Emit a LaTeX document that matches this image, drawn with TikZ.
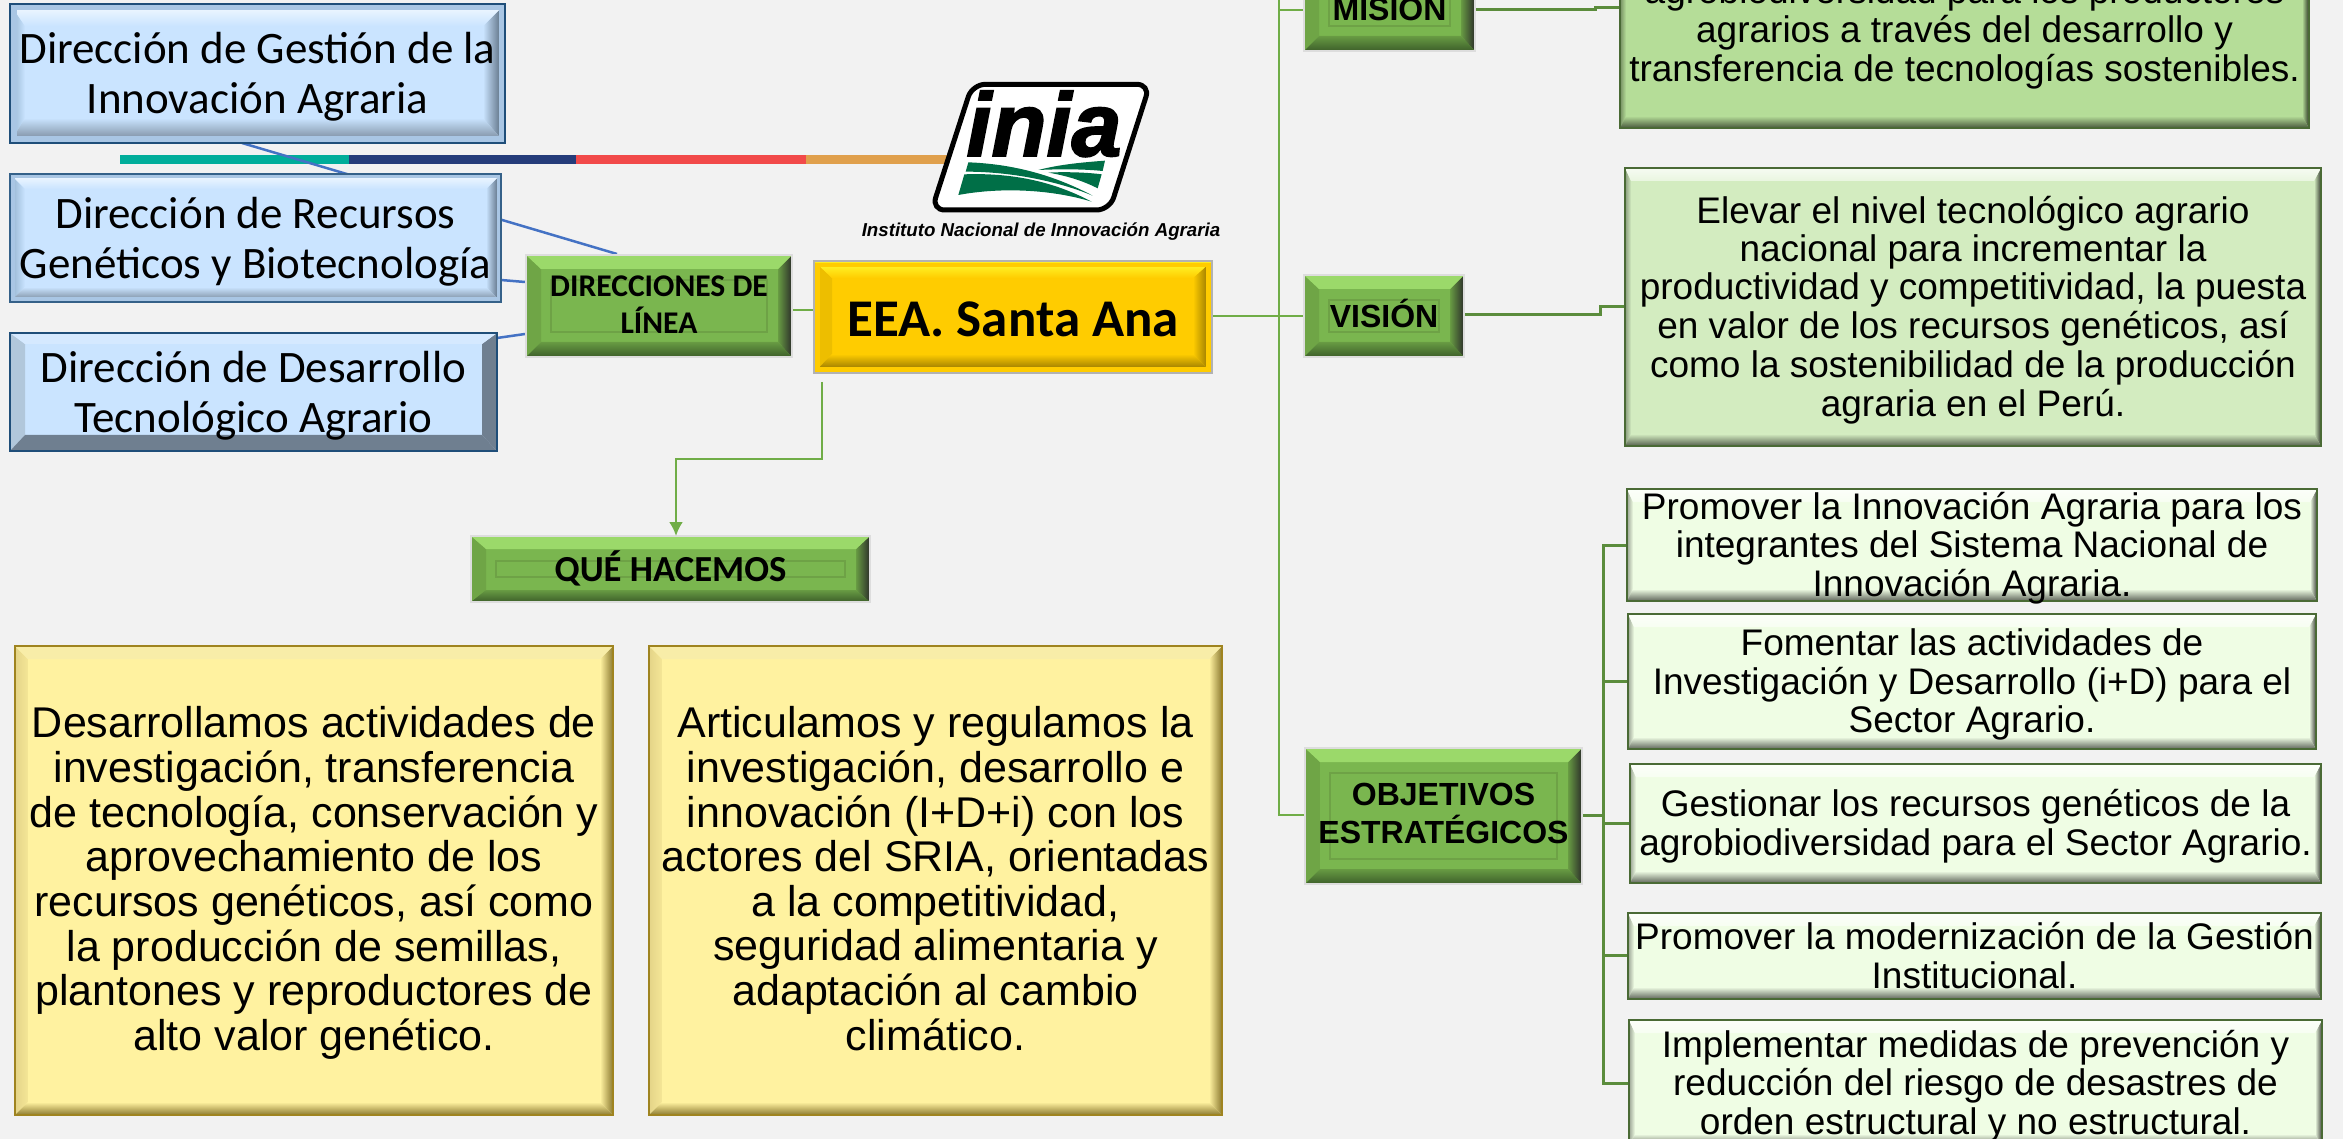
\documentclass[tikz,border=0pt]{standalone}
\usepackage{fontspec}
\setmainfont{Liberation Sans}
\newfontfamily\carl{Carlito}
\newfontfamily\iniafont{Liberation Sans}[BoldItalicFeatures={FakeBold=2}]
\usetikzlibrary{arrows.meta}
% text of fixed size that never changes the size of its box
\newcommand{\tx}[3]{\fontsize{#1}{#2}\selectfont\makebox[0pt][c]{\smash{\raisebox{-.25em}{\begin{tabular}[c]{@{}c@{}}#3\end{tabular}}}}}
\newcommand{\txp}[3]{\fontsize{#1}{#2}\selectfont\makebox[0pt][c]{\smash{\raisebox{-.3em}{\begin{tabular}[c]{@{}c@{}}#3\end{tabular}}}}}
\tikzset{
  bvx/.store in=\bvx, bvt/.store in=\bvt, bvb/.store in=\bvb, bvr/.store in=\bvr,
  bvextra/.store in=\bvextra, bvextra={},
  ctA/.code={\colorlet{ctAc}{#1}}, ctB/.code={\colorlet{ctBc}{#1}},
  cbA/.code={\colorlet{cbAc}{#1}}, cbB/.code={\colorlet{cbBc}{#1}},
  cl/.code={\colorlet{clc}{#1}}, cr/.code={\colorlet{crc}{#1}},
  clI/.code={\colorlet{clIc}{#1}}, crI/.code={\colorlet{crIc}{#1}},
  bevel/.style={inner sep=0pt, outer sep=0pt, path picture={
    \coordinate (nw) at (path picture bounding box.north west);
    \coordinate (ne) at (path picture bounding box.north east);
    \coordinate (sw) at (path picture bounding box.south west);
    \coordinate (se) at (path picture bounding box.south east);
    \coordinate (inw) at ([xshift=\bvx pt,yshift=-\bvt pt]nw);
    \coordinate (ine) at ([xshift=-\bvr pt,yshift=-\bvt pt]ne);
    \coordinate (isw) at ([xshift=\bvx pt,yshift=\bvb pt]sw);
    \coordinate (ise) at ([xshift=-\bvr pt,yshift=\bvb pt]se);
    \shade[left color=clc,right color=clIc] (nw) -- (inw) -- (isw) -- (sw) -- cycle;
    \shade[left color=crIc,right color=crc] (ne) -- (ine) -- (ise) -- (se) -- cycle;
    \shade[top color=ctAc,bottom color=ctBc] (nw) -- (ne) -- (ine) -- (inw) -- cycle;
    \shade[top color=cbAc,bottom color=cbBc] (isw) -- (ise) -- (se) -- (sw) -- cycle;
    \bvextra
  }},
  bluebox/.style={bevel, draw=#1, line width=2.5pt, fill=facebl, ctA=white!80!facebl, ctB=facebl, cl=blL, clI=facebl, cr=blR, crI=facebl, cbA=facebl, cbB=blB, bvx=15, bvr=22, bvt=22, bvb=25,
    bvextra={\draw[line width=13pt,blA] (nw) rectangle (se);}},
  greenbox/.style={bevel, draw=rimgr, line width=1.5pt, fill=facegr, ctA=#1, ctB=#1, cl=grL, clI=grL, cr=grR, crI=facegr!85!black, cbA=facegr!85!black, cbB=grB, bvx=15, bvr=14, bvt=14, bvb=15,
    bvextra={\draw[line width=1.2pt,grF] ([xshift=25pt,yshift=-25pt]nw) rectangle ([xshift=-25pt,yshift=25pt]se);}},
  paleboxA/.style 2 args={bevel, draw=#1, fill=#2, line width=2.5pt, ctA=white!80!#2, ctB=#2!50!white, cl=#2!65!black, clI=#2, cr=#2!25!black, crI=#2, cbA=#2, cbB=#2!40!black, bvx=6, bvr=7, bvt=13, bvb=12},
  yellowbox/.style={bevel, draw=yelD, line width=2.5pt, fill=faceye, ctA=yelT, ctB=yelT, cl=yelL, clI=yelL!40!faceye, cr=yelR, crI=faceye, cbA=faceye, cbB=yelR, bvx=13, bvr=13, bvt=13, bvb=13},
  eeabox/.style={bevel, draw=gray!60, line width=1.5pt, fill=eeaF, ctA=eeaT, ctB=eeaF, cl=eeaL, clI=eeaL, cr=eeaR, crI=eeaF, cbA=eeaF, cbB=eeaR, bvx=18, bvr=19, bvt=17, bvb=19,
    bvextra={\draw[line width=12pt,eeaF] (nw) rectangle (se); \draw[line width=5pt,eeaT!60!eeaF] (nw) -- (ne);}},
  conn/.style={draw=gline, line width=2.5pt},
  dconn/.style={draw=dline, line width=3pt},
  bconn/.style={draw=bline, line width=2.5pt},
}
\definecolor{bgc}{HTML}{F2F2F2}
\definecolor{facebl}{HTML}{CAE4FF}
\definecolor{blA}{HTML}{A9C6E4}
\definecolor{blL}{HTML}{8FAFCB}
\definecolor{blR}{HTML}{46586A}
\definecolor{blB}{HTML}{6F7F90}
\definecolor{blD}{HTML}{1F4E79}
\definecolor{facegr}{HTML}{7AB64F}
\definecolor{rimgr}{HTML}{DDDDDD}
\definecolor{grT}{HTML}{9BD96A}
\definecolor{grL}{HTML}{6FA546}
\definecolor{grR}{HTML}{2C2F2A}
\definecolor{grB}{HTML}{3D5F2A}
\definecolor{grF}{HTML}{6EA246}
\definecolor{gline}{HTML}{70AD47}
\definecolor{dline}{HTML}{5B8C3C}
\definecolor{bline}{HTML}{4472C4}
\definecolor{faceye}{HTML}{FFF2A0}
\definecolor{yelT}{HTML}{F8EDA8}
\definecolor{yelL}{HTML}{E4D488}
\definecolor{yelR}{HTML}{8C7A30}
\definecolor{yelD}{HTML}{9F8420}
\definecolor{eeaF}{HTML}{FFCC00}
\definecolor{eeaT}{HTML}{FFFF33}
\definecolor{eeaL}{HTML}{EDBE00}
\definecolor{eeaR}{HTML}{7F6500}
\definecolor{bandA}{HTML}{00AD9A}
\definecolor{bandB}{HTML}{253C7A}
\definecolor{bandC}{HTML}{F24A4A}
\definecolor{bandD}{HTML}{E0A04C}
\definecolor{logoG}{HTML}{006F47}
\definecolor{mis}{HTML}{B5DD98}
\definecolor{vis}{HTML}{D3ECC0}
\definecolor{obj}{HTML}{EFFDE4}
\definecolor{edgeG}{HTML}{4A6A35}
\newcommand{\bx}[7][]{\node[#2,#1,minimum width={(#6-#4)*1pt},minimum height={(#7-#5)*1pt}] (#3) at ({(#4+#6)/2},{(#5+#7)/2})}
\begin{document}
\begin{tikzpicture}[x=1pt,y=-1pt]
\useasboundingbox (0,0) rectangle (2343,1139);
\clip (0,0) rectangle (2343,1139);
\fill[bgc] (0,0) rectangle (2343,1139);
% colour band
\fill[bandA] (120,155) rectangle (349,164);
\fill[bandB] (349,155) rectangle (576,164);
\fill[bandC] (576,155) rectangle (806,164);
\fill[bandD] (806,155) rectangle (960,164);
% named connector ends
\coordinate (b1out) at (242,143);
\coordinate (dlin1) at (617,254);
\coordinate (qstart) at (822,382);
\coordinate (qmid) at (822,459);
\coordinate (trunktop) at (1279,-5);
\coordinate (vjog) at (1600,315);
\coordinate (mjog) at (1595,10);
\coordinate (ojog) at (1603,815);
% blue connectors
\draw[bconn] (b1out) -- (dlin1);
\draw[bconn] (501,280) -- (525,282);
\draw[bconn] (497,338) -- (525,334);
% green connectors
\draw[conn] (792,310) -- (813,310);
\draw[conn] (1212,316) -- (1303,316);
\draw[conn] (qstart) -- (qmid) -| (676,530);
\draw[conn] (trunktop) |- (1305,815);
\draw[conn] (1279,10) -- (1305,10);
\draw[dconn] (1464,315) -- (vjog) |- (1624,307);
\draw[dconn] (1475,10) -- (mjog) |- (1620,8);
\draw[dconn] (1582,815) -- (ojog);
\draw[dconn] (1627,545) -| (1603,1083) -- (1630,1083);
\draw[dconn] (1603,681) -- (1628,681);
\draw[dconn] (1603,823) -- (1630,823);
\draw[dconn] (1603,955.5) -- (1628,955.5);
% blue boxes
\bx{bluebox=blD}{b1}{10}{4}{505}{143} {\carl\tx{45}{50}{Dirección de Gestión de la\\Innovación Agraria}};
\bx[bvr=15,bvt=15,bvb=15,bvextra={\draw[line width=9pt,blA] (nw) rectangle (se);}]{bluebox=blD!80!blL}{b2}{10}{174}{501}{302} {\carl\tx{45}{50}{Dirección de Recursos\\Genéticos y Biotecnología}};
\bx[bvx=15,bvr=15,bvt=11,bvb=16,ctA=facebl!80!white,ctB=facebl!80!white,cl=blL!70!white,clI=blL!70!white,cr=blB,crI=blB,cbA=blB,cbB=blB,bvextra={}]{bluebox=blD}{b3}{10}{333}{497}{451} {\carl\tx{45}{50}{Dirección de Desarrollo\\Tecnológico Agrario}};
% green nodes
\bx{greenbox=grT}{dl}{526}{255}{792}{357} {\carl\bfseries\tx{31.6}{35}{DIRECCIONES DE\\LÍNEA}};
\bx{greenbox=grT}{mision}{1304}{-32}{1475}{51} {\bfseries\tx{32}{33}{MISIÓN}};
\bx{greenbox=grT}{vision}{1304}{275}{1464}{357} {\bfseries\tx{32}{33}{VISIÓN}};
\bx{greenbox=grT}{objetivos}{1305}{748}{1582}{884} {\bfseries\tx{32}{33}{OBJETIVOS\\ESTRATÉGICOS}};
\bx[bvt=13,bvb=12]{greenbox=grT}{que}{471}{536}{870}{602} {\carl\bfseries\tx{36.7}{38}{QUÉ HACEMOS}};
% main yellow node
\bx{eeabox}{eea}{814}{261}{1212}{373} {\carl\bfseries\tx{53}{60}{EEA. Santa Ana}};
\draw[conn,-{Latex[length=14pt,width=14pt]}] (676,520) -- (676,536);
% statement boxes
\bx{paleboxA={edgeG}{mis}}{misbox}{1620}{-68}{2309}{128} {\txp{37}{39}{agrobiodiversidad para los productores\\agrarios a través del desarrollo y\\transferencia de tecnologías sostenibles.}};
\bx{paleboxA={edgeG}{vis}}{visbox}{1625}{168}{2321}{446} {\txp{37}{38.4}{Elevar el nivel tecnológico agrario\\nacional para incrementar la\\productividad y competitividad, la puesta\\en valor de los recursos genéticos, así\\como la sostenibilidad de la producción\\agraria en el Perú.}};
\bx{paleboxA={edgeG}{obj}}{o1}{1627}{489}{2317}{601} {\txp{37}{38.6}{Promover la Innovación Agraria para los\\integrantes del Sistema Nacional de\\Innovación Agraria.}};
\bx{paleboxA={edgeG}{obj}}{o2}{1628}{614}{2316}{749} {\txp{37}{38.6}{Fomentar las actividades de\\Investigación y Desarrollo (i+D) para el\\Sector Agrario.}};
\bx{paleboxA={edgeG}{obj}}{o3}{1630}{764}{2321}{883} {\txp{37}{38.6}{Gestionar los recursos genéticos de la\\agrobiodiversidad para el Sector Agrario.}};
\bx{paleboxA={edgeG}{obj}}{o4}{1628}{913}{2321}{999} {\txp{37}{38.6}{Promover la modernización de la Gestión\\Institucional.}};
\bx{paleboxA={edgeG}{obj}}{o5}{1629}{1020}{2322}{1146} {\txp{37}{38.6}{Implementar medidas de prevención y\\reducción del riesgo de desastres de\\orden estructural y no estructural.}};
\bx{yellowbox}{y1}{15}{646}{613}{1115} {\tx{43}{44.3}{Desarrollamos actividades de\\investigación, transferencia\\de tecnología, conservación y\\aprovechamiento de los\\recursos genéticos, así como\\la producción de semillas,\\plantones y reproductores de\\alto valor genético.}};
\bx{yellowbox}{y2}{649}{646}{1222}{1115} {\tx{43}{44.3}{Articulamos y regulamos la\\investigación, desarrollo e\\innovación (I+D+i) con los\\actores del SRIA, orientadas\\a la competitividad,\\seguridad alimentaria y\\adaptación al cambio\\climático.}};
% logo
\begin{scope}[shift={(920,75)},x=0.3333pt,y=-0.3333pt]
\draw[black,fill=white,line width=5pt,rounded corners=13pt] (157,28) -- (690,28) -- (569,405) -- (35,405) -- cycle;
\fill[logoG] (145,262) .. controls (300,268) and (420,310) .. (518,362) .. controls (430,325) and (290,290) .. (137,290) -- cycle;
\fill[logoG] (133,298) .. controls (300,292) and (420,330) .. (515,380) .. controls (400,345) and (250,335) .. (115,360) -- cycle;
\fill[logoG] (355,285) .. controls (420,268) and (490,262) .. (555,257) -- (548,288) .. controls (490,282) and (420,282) .. (355,285) -- cycle;
\fill[logoG] (385,293) .. controls (430,290) and (500,292) .. (545,298) -- (533,340) .. controls (490,318) and (440,302) .. (385,293) -- cycle;
\node[inner sep=0pt,anchor=base] (inia) at (372,243) {\fontsize{90}{90}\selectfont\iniafont\bfseries\itshape inia};
\end{scope}
\node[inner sep=0pt] (inst) at (1041,232) {\fontsize{18.7}{22}\selectfont\bfseries\itshape Instituto Nacional de Innovación Agraria};
\end{tikzpicture}
\end{document}
